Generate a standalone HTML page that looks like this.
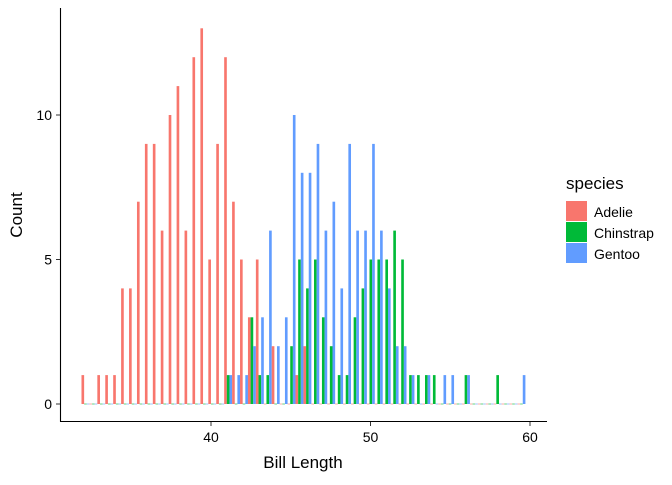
<!DOCTYPE html>
<html><head><meta charset="utf-8"><style>
body{margin:0;background:#fff}
svg text{font-family:"Liberation Sans",Arial,sans-serif}
</style></head><body>
<svg id="chart" width="672" height="480" viewBox="0 0 672 480">
<g id="bars"></g>
<line x1="60.5" y1="8" x2="60.5" y2="421.5" stroke="#000" stroke-width="1.1"/>
<line x1="60" y1="421.5" x2="547" y2="421.5" stroke="#000" stroke-width="1.1"/>
<g id="yticks"></g>
<g id="xticks"></g>
<text x="22" y="215" transform="rotate(-90 22 215)" text-anchor="middle" font-size="17">Count</text>
<text x="303" y="468" text-anchor="middle" font-size="17">Bill Length</text>
<g>
<text x="566" y="189" font-size="17">species</text>
<g><rect x="566" y="201" width="21" height="20" fill="#F8766D"/><text x="594" y="217" font-size="14">Adelie</text></g>
<g><rect x="566" y="222" width="21" height="20" fill="#00BA38"/><text x="594" y="238" font-size="14">Chinstrap</text></g>
<g><rect x="566" y="243" width="21" height="20" fill="#619CFF"/><text x="594" y="259" font-size="14">Gentoo</text></g>
</g>
</svg>
<script>
const binStart = 31.88;
const binWidth = 0.497;
const adelie = [1,0,1,1,1,4,4,7,9,9,6,10,11,6,12,13,5,9,12,7,5,3,5,0,2,0,0,1,2,0,0,0,0,0,0,0,0,0,0,0,0,0,0,0,0,0,0,0,0,0,0,0,0,0,0,0];
const chinstrap = [0,0,0,0,0,0,0,0,0,0,0,0,0,0,0,0,0,0,1,0,0,3,1,1,0,0,2,5,4,5,3,2,1,1,3,4,5,5,5,6,5,1,1,1,1,0,0,0,1,0,0,0,1,0,0,0];
const gentoo = [0,0,0,0,0,0,0,0,0,0,0,0,0,0,0,0,0,0,1,1,1,2,3,6,2,3,10,8,8,9,6,7,4,9,6,6,9,6,4,2,2,1,0,1,0,1,1,0,1,0,0,0,0,0,0,1];
const yTickValues = [0,5,10];
const xTickValues = [40,50,60];
const seriesColors = ["#F8766D","#00BA38","#619CFF"];
const seriesNames = ["adelie","chinstrap","gentoo"];

const NS="http://www.w3.org/2000/svg";
const xs = v => 211 + (v-40)*15.95;
const ys = c => 404 - c*28.9;
const bars = document.getElementById('bars');
const all=[adelie,chinstrap,gentoo];
for(let i=0;i<adelie.length;i++){
  const x0=xs(binStart+i*binWidth), x1=xs(binStart+(i+1)*binWidth);
  const w=(x1-x0)/3;
  all.forEach((arr,s)=>{
    const r=document.createElementNS(NS,'rect');
    
    
    const h=Math.max(arr[i]*28.9,0.6);
    r.setAttribute('x',x0+s*w);r.setAttribute('width',w);
    r.setAttribute('y',ys(arr[i])-(arr[i]?0:0.3));r.setAttribute('height',h);
    r.setAttribute('fill',seriesColors[s]);
    bars.appendChild(r);
  });
}
const yt=document.getElementById('yticks');
yTickValues.forEach(v=>{
  const l=document.createElementNS(NS,'line');
  
  
  l.setAttribute('x1',56);l.setAttribute('x2',60);l.setAttribute('y1',ys(v));l.setAttribute('y2',ys(v));l.setAttribute('stroke','#333');
  yt.appendChild(l);
  const t=document.createElementNS(NS,'text');
  
  
  t.setAttribute('x',52);t.setAttribute('y',ys(v)+5);t.setAttribute('text-anchor','end');t.setAttribute('font-size','14');t.setAttribute('fill','#000');
  t.textContent=v;yt.appendChild(t);
});
const xt=document.getElementById('xticks');
xTickValues.forEach(v=>{
  const l=document.createElementNS(NS,'line');
  
  
  l.setAttribute('x1',xs(v));l.setAttribute('x2',xs(v));l.setAttribute('y1',422);l.setAttribute('y2',426);l.setAttribute('stroke','#333');
  xt.appendChild(l);
  const t=document.createElementNS(NS,'text');
  
  
  t.setAttribute('x',xs(v));t.setAttribute('y',442);t.setAttribute('text-anchor','middle');t.setAttribute('font-size','14');t.setAttribute('fill','#000');
  t.textContent=v;xt.appendChild(t);
});
</script>
</body></html>
